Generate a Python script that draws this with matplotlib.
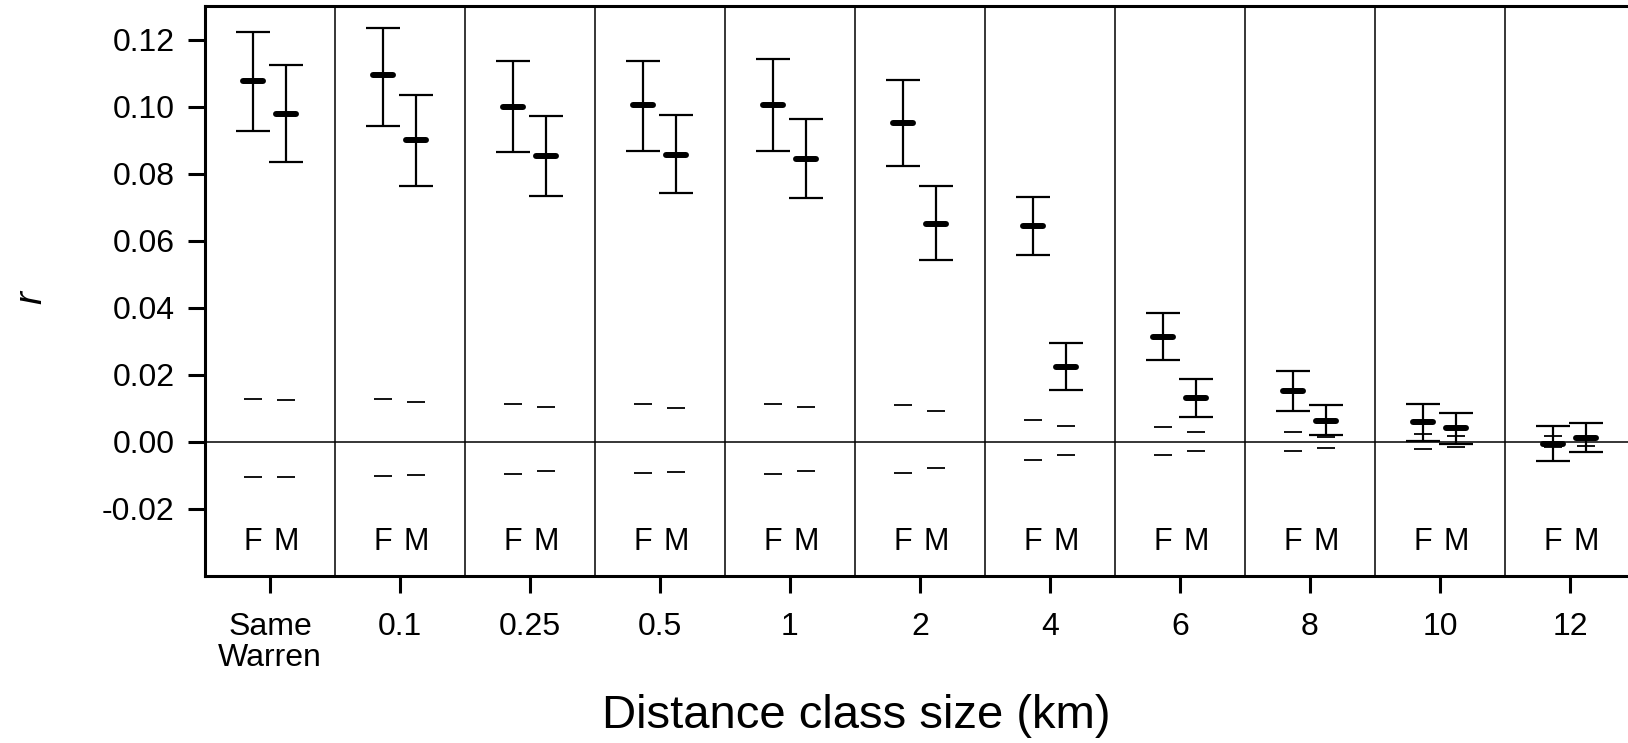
import numpy as np
import matplotlib
matplotlib.use("Agg")
from matplotlib import pyplot as plt

plt.rcParams['font.family'] = ['Liberation Sans', 'DejaVu Sans']

# distance classes (km)
classes = ["Same\nWarren", "0.1", "0.25", "0.5", "1", "2", "4", "6", "8", "10", "12"]

# females: mean r, upper and lower error limits, null confidence limits
f_mean = [0.1077, 0.1093, 0.0999, 0.1004, 0.1005, 0.0951, 0.0643, 0.0314, 0.0152, 0.0059, -0.0006]
f_hi = [0.1222, 0.1233, 0.1135, 0.1137, 0.1141, 0.1079, 0.0729, 0.0384, 0.0210, 0.0112, 0.0048]
f_lo = [0.0928, 0.0942, 0.0864, 0.0867, 0.0868, 0.0822, 0.0556, 0.0244, 0.0093, 0.0004, -0.0057]
f_null_hi = [0.0129, 0.0127, 0.0114, 0.0114, 0.0114, 0.0110, 0.0066, 0.0044, 0.0029, 0.0024, 0.0018]
f_null_lo = [-0.0104, -0.0101, -0.0096, -0.0093, -0.0095, -0.0093, -0.0053, -0.0038, -0.0026, -0.0021, -0.0015]

# males
m_mean = [0.0977, 0.0901, 0.0852, 0.0857, 0.0845, 0.0651, 0.0224, 0.0130, 0.0062, 0.0041, 0.0013]
m_hi = [0.1123, 0.1035, 0.0973, 0.0974, 0.0964, 0.0763, 0.0295, 0.0188, 0.0110, 0.0087, 0.0055]
m_lo = [0.0836, 0.0764, 0.0733, 0.0741, 0.0727, 0.0542, 0.0154, 0.0074, 0.0020, -0.0005, -0.0031]
m_null_hi = [0.0124, 0.0118, 0.0104, 0.0102, 0.0105, 0.0093, 0.0046, 0.0029, 0.0016, 0.0017, 0.0013]
m_null_lo = [-0.0104, -0.0098, -0.0087, -0.0089, -0.0087, -0.0077, -0.0040, -0.0027, -0.0017, -0.0014, -0.0012]

fig = plt.figure(figsize=(16.28, 7.43), dpi=100)
ax = fig.add_axes([0.1259, 0.2248, 0.8784, 0.7671])

pos = np.arange(len(classes))
xf = pos - 0.13
xm = pos + 0.125

for x, mean, hi, lo, nhi, nlo in [(xf, f_mean, f_hi, f_lo, f_null_hi, f_null_lo),
                                   (xm, m_mean, m_hi, m_lo, m_null_hi, m_null_lo)]:
    mean = np.array(mean)
    yerr = [mean - np.array(lo), np.array(hi) - mean]
    ax.errorbar(x, mean, yerr=yerr, fmt='none', ecolor='black', elinewidth=1.6,
                capsize=12, capthick=1.6, zorder=3)
    ax.hlines(mean, x - 0.075, x + 0.075, color='black', lw=4.3, zorder=4, capstyle='round')
    ax.hlines(nhi, x - 0.068, x + 0.068, color='black', lw=1.3, zorder=3)
    ax.hlines(nlo, x - 0.068, x + 0.068, color='black', lw=1.3, zorder=3)

# F / M labels in every panel
for i in pos:
    ax.text(xf[i], -0.0322, "F", ha='center', va='baseline', fontsize=22)
    ax.text(xm[i], -0.0322, "M", ha='center', va='baseline', fontsize=22)

# panel dividers and zero line
for b in pos[:-1] + 0.5:
    ax.axvline(b, color='black', lw=1.1)
ax.axhline(0, color='black', lw=1.1)

ax.set_xlim(-0.5, 10.5)
ax.set_ylim(-0.04, 0.130)
ax.set_yticks(np.arange(-0.02, 0.121, 0.02))
ax.set_yticklabels(["%.2f" % v for v in np.arange(-0.02, 0.121, 0.02)])
ax.set_xticks(pos)
ax.set_xticklabels(classes, linespacing=1.05)

for s in ['left', 'bottom', 'top', 'right']:
    ax.spines[s].set_linewidth(2.2)
ax.tick_params(axis='both', direction='out', length=12, width=2.2, labelsize=23)
ax.tick_params(axis='y', pad=10)
ax.tick_params(axis='x', pad=14)

fig.text(0.526, 0.036, "Distance class size (km)", fontsize=34, ha='center', va='center')
fig.text(0.019, 0.60, "r", rotation=90, fontsize=28, style='italic', ha='center', va='center')

fig.savefig("out.png", dpi=100)
